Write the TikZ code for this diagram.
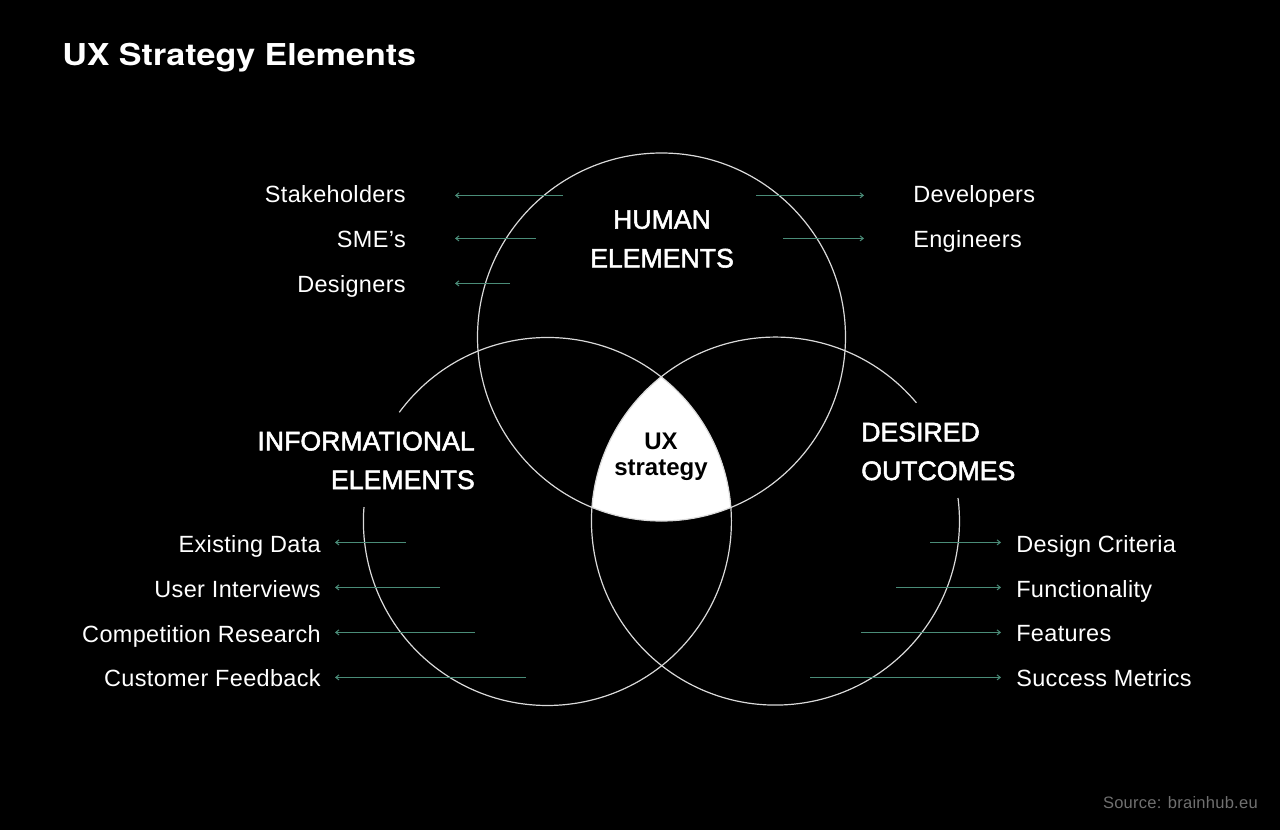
\documentclass[tikz,border=0pt]{standalone}
\usepackage{fontspec}
\setmainfont{Liberation Sans}[LetterSpace=1.5]
\newfontfamily\titlefont{TeX Gyre Heros Bold}[FakeStretch=1.13]
\newfontfamily\headfont{Liberation Sans}[FakeBold=2]
\newfontfamily\uxfont{Liberation Sans Bold}
\definecolor{arrowgreen}{HTML}{4A8C78}
\definecolor{ringgray}{HTML}{DADADA}
\definecolor{srcgray}{HTML}{707070}
\usetikzlibrary{arrows.meta}
\tikzset{
  ring/.style={draw=ringgray,line width=0.9pt},
  pointer/.style={draw=arrowgreen,line width=0.75pt,-{Straight Barb[length=2.4pt,width=3.8pt]}},
  itemlabel/.style={text=white,inner sep=0pt,font=\fontsize{17.6pt}{20pt}\selectfont},
  leftitem/.style={itemlabel,anchor=base east},
  rightitem/.style={itemlabel,anchor=base west},
  headlabel/.style={text=white,inner sep=0pt,align=center,font=\fontsize{20pt}{29pt}\selectfont\headfont},
}
\begin{document}
\begin{tikzpicture}[x=0.75pt,y=-0.75pt]
\useasboundingbox[fill=black] (0,0) rectangle (1280,830);
\coordinate (ct) at (661.5,337);
\coordinate (cl) at (547.5,521.5);
\coordinate (cr) at (775.5,521);
% centre
\begin{scope}
  \clip (ct) circle[radius=138pt];
  \clip (cl) circle[radius=138pt];
  \fill[white] (cr) circle[radius=138pt];
\end{scope}
% rings
\draw[ring] (ct) circle[radius=138pt];
\draw[ring] (399.3,412.3) arc[start angle=143.6,end angle=-184.5,radius=138pt];
\draw[ring] (958,498) arc[start angle=7.2,end angle=-320,radius=138pt];
% title
\node[anchor=base west,inner sep=0pt,text=white,font=\fontsize{22.6pt}{26pt}\selectfont\titlefont] (title) at (62,65.5) {UX Strategy Elements};
% heads
\node[headlabel] (hum) at (662,239) {HUMAN\\ELEMENTS};
\node[headlabel,align=right,anchor=east] (inf) at (475,460.5) {INFORMATIONAL\\ELEMENTS};
\node[headlabel,align=left,anchor=west] (des) at (861,451.5) {DESIRED\\OUTCOMES};
\node[text=black,inner sep=0pt,align=center,font=\fontsize{18pt}{19.5pt}\selectfont\uxfont] (ux) at (661,456.5) {UX\\strategy};
% left top items
\node[leftitem] (a1) at (406,203) {Stakeholders};
\node[leftitem] (a2) at (406,248) {SME’s};
\node[leftitem] (a3) at (406,293) {Designers};
\coordinate (a1s) at (563,195.4); \coordinate (a1e) at (455,195.4);
\coordinate (a2s) at (536,238.4); \coordinate (a2e) at (455,238.4);
\coordinate (a3s) at (510,283.4); \coordinate (a3e) at (455,283.4);
\draw[pointer] (a1s) -- (a1e);
\draw[pointer] (a2s) -- (a2e);
\draw[pointer] (a3s) -- (a3e);
% right top items
\node[rightitem] (b1) at (913,203) {Developers};
\node[rightitem] (b2) at (913,248) {Engineers};
\coordinate (b1s) at (756,195.4); \coordinate (b1e) at (864,195.4);
\coordinate (b2s) at (783,238.4); \coordinate (b2e) at (864,238.4);
\draw[pointer] (b1s) -- (b1e);
\draw[pointer] (b2s) -- (b2e);
% left bottom
\node[leftitem] (c1) at (321,552) {Existing Data};
\node[leftitem] (c2) at (321,597) {User Interviews};
\node[leftitem] (c3) at (321,642) {Competition Research};
\node[leftitem] (c4) at (321,686) {Customer Feedback};
\coordinate (c1s) at (406,542.4); \coordinate (c1e) at (335,542.4);
\coordinate (c2s) at (440,587.4); \coordinate (c2e) at (335,587.4);
\coordinate (c3s) at (475,632.4); \coordinate (c3e) at (335,632.4);
\coordinate (c4s) at (526,677.4); \coordinate (c4e) at (335,677.4);
\draw[pointer] (c1s) -- (c1e);
\draw[pointer] (c2s) -- (c2e);
\draw[pointer] (c3s) -- (c3e);
\draw[pointer] (c4s) -- (c4e);
% right bottom
\node[rightitem] (d1) at (1016,552) {Design Criteria};
\node[rightitem] (d2) at (1016,597) {Functionality};
\node[rightitem] (d3) at (1016,641) {Features};
\node[rightitem] (d4) at (1016,686) {Success Metrics};
\coordinate (d1s) at (930,542.4); \coordinate (d1e) at (1001,542.4);
\coordinate (d2s) at (896,587.4); \coordinate (d2e) at (1001,587.4);
\coordinate (d3s) at (861,632.4); \coordinate (d3e) at (1001,632.4);
\coordinate (d4s) at (810,677.4); \coordinate (d4e) at (1001,677.4);
\draw[pointer] (d1s) -- (d1e);
\draw[pointer] (d2s) -- (d2e);
\draw[pointer] (d3s) -- (d3e);
\draw[pointer] (d4s) -- (d4e);
% source
\node[anchor=base east,inner sep=0pt,text=srcgray,font=\fontsize{12.4pt}{14pt}\selectfont] (src) at (1258,808) {Source: brainhub.eu};
\end{tikzpicture}
\end{document}
